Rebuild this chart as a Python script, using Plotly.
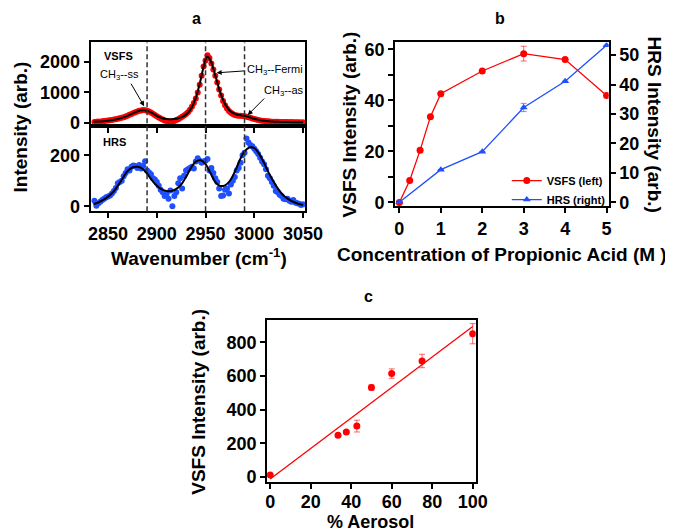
import numpy as np
import plotly.graph_objects as go

W, H = 673, 532

# ---------------- Panel a data ----------------
VSFS_SPEC_X = list(range(2836, 3052, 2))
VSFS_SPEC_Y = [
    30, 35, 45, 40, 55, 60, 70,
    75, 85, 95, 110, 120, 135, 150, 165, 185, 210, 235, 265, 290, 320, 350, 375, 395, 410, 420, 415, 400, 375, 340, 300, 255,
    215, 175, 140, 110, 80, 60, 45, 40, 50, 60, 90, 120, 160, 200, 240, 290, 350, 430, 530, 650, 800, 1000, 1250, 1550, 1850,
    2050, 2220, 2130, 1950, 1750, 1550, 1330, 1100, 900, 720, 580, 470, 390, 330, 290, 260, 245, 235, 230, 225, 215, 200, 185, 165, 145,
    125, 110, 95, 80, 70, 60, 55, 50, 45, 40, 38, 35, 33, 30, 30, 28, 25, 28, 22, 25, 20, 22, 18, 20, 15,
    18,
]
VSFS_FIT_X = [2835, 2840, 2845, 2850, 2855, 2860, 2865, 2870, 2875, 2880, 2885, 2890, 2895, 2900, 2905,
              2910, 2915, 2920, 2925, 2930, 2935, 2940, 2945, 2950, 2952, 2955, 2960, 2965, 2970, 2975,
              2980, 2985, 2990, 2995, 3000, 3005, 3010, 3015, 3020, 3025, 3030, 3035, 3040, 3045, 3050]
VSFS_FIT_Y = [35, 42, 55, 72, 95, 128, 172, 232, 305, 375, 415, 400, 325, 230, 160,
              125, 118, 135, 180, 270, 460, 820, 1420, 2080, 2170, 2060, 1560, 1010, 620, 400,
              300, 255, 230, 185, 135, 95, 68, 50, 40, 33, 28, 24, 21, 19, 17]

HRS_SPEC_X = list(range(2836, 3052, 2))
HRS_SPEC_Y = [
    22, 2, 12, 18, 25, 30, 35,
    38, 42, 50, 60, 72, 90, 95, 100, 118, 130, 145, 140, 155, 160, 158, 150, 162, 148, 158, 176, 140, 132, 125, 110, 105,
    95, 80, 65, 55, 40, 48, 30, 62, 0, 40, 55, 90, 110, 70, 120, 140, 145, 150, 155, 148, 175, 188, 178, 170, 175,
    178, 185, 140, 150, 130, 110, 95, 70, 40, 42, 65, 70, 50, 85, 100, 115, 140, 150, 170, 200, 210, 265, 250, 240, 235,
    225, 215, 205, 190, 175, 165, 145, 120, 110, 95, 80, 60, 55, 45, 40, 30, 28, 30, 22, 18, 25, 15, 12, 10, 5,
    8,
]
HRS_FIT_X = [2835, 2840, 2845, 2850, 2855, 2860, 2865, 2870, 2875, 2880, 2885, 2890, 2895, 2900, 2905,
             2910, 2915, 2920, 2925, 2930, 2935, 2940, 2945, 2950, 2955, 2960, 2965, 2970, 2975, 2980,
             2985, 2990, 2995, 3000, 3005, 3010, 3015, 3020, 3025, 3030, 3035, 3040, 3045, 3050]
HRS_FIT_Y = [8, 15, 25, 38, 55, 80, 110, 138, 152, 155, 148, 128, 102, 80, 66,
             60, 60, 68, 85, 115, 150, 175, 180, 165, 130, 95, 80, 82, 100, 135,
             180, 215, 230, 228, 205, 170, 130, 95, 65, 42, 28, 17, 10, 5]
PEAK_LINES = [2890, 2950, 2990]

# ---------------- Panel b data ----------------
CONC_VSFS = [0, 0.25, 0.5, 0.75, 1, 2, 3, 4, 5]
VSFS_INT = [0, 8.6, 20.4, 33.6, 42.6, 51.5, 58.3, 56.0, 41.9]
VSFS_ERR = [0, 0, 0, 0, 0, 0, 2.9, 0, 0]
CONC_HRS = [0, 1, 2, 3, 4, 5]
HRS_INT = [0, 11.1, 17.2, 32.2, 41.1, 53.3]
HRS_ERR = [0, 0, 0, 1.4, 0, 0]

# ---------------- Panel c data ----------------
AEROSOL = [0, 33.5, 37.6, 42.8, 50, 60, 75, 100]
AER_VSFS = [13, 249, 268, 303, 533, 615, 690, 852]
AER_ERR = [8, 10, 8, 35, 15, 28, 40, 60]

RED = "#ff0000"
BLUE = "#1f4fff"
FONT = "Liberation Sans"


def px(x):
    return x / W


def py(y):
    return 1 - y / H


fig = go.Figure()

# panel a top
fig.add_trace(go.Scatter(x=VSFS_SPEC_X, y=VSFS_SPEC_Y, mode="markers",
                         marker=dict(color=RED, size=6), xaxis="x", yaxis="y", showlegend=False))
fig.add_trace(go.Scatter(x=VSFS_FIT_X, y=VSFS_FIT_Y, mode="lines", line=dict(color="black", width=2, shape="spline"),
                         xaxis="x", yaxis="y", showlegend=False))
# panel a bottom
fig.add_trace(go.Scatter(x=HRS_SPEC_X, y=HRS_SPEC_Y, mode="markers",
                         marker=dict(color=BLUE, size=6), xaxis="x2", yaxis="y2", showlegend=False))
fig.add_trace(go.Scatter(x=HRS_FIT_X, y=HRS_FIT_Y, mode="lines", line=dict(color="black", width=2, shape="spline"),
                         xaxis="x2", yaxis="y2", showlegend=False))

# panel b
fig.add_trace(go.Scatter(x=CONC_VSFS, y=VSFS_INT, mode="lines+markers", name="VSFS (left)",
                         line=dict(color=RED, width=1.3), marker=dict(color=RED, size=7, symbol="circle"),
                         error_y=dict(type="data", array=VSFS_ERR, color="rgba(255,0,0,0.6)", thickness=1, width=3),
                         xaxis="x3", yaxis="y3"))
fig.add_trace(go.Scatter(x=CONC_HRS, y=HRS_INT, mode="lines+markers", name="HRS (right)",
                         line=dict(color=BLUE, width=1.3), marker=dict(color=BLUE, size=7, symbol="triangle-up"),
                         error_y=dict(type="data", array=HRS_ERR, color="rgba(31,79,255,0.6)", thickness=1, width=3),
                         xaxis="x3", yaxis="y4"))

# panel c
slope, intercept = np.polyfit(AEROSOL, AER_VSFS, 1)
fit_x = np.array([min(AEROSOL), max(AEROSOL)])
fig.add_trace(go.Scatter(x=fit_x, y=slope * fit_x + intercept, mode="lines", line=dict(color=RED, width=1.3),
                         xaxis="x4", yaxis="y5", showlegend=False))
fig.add_trace(go.Scatter(x=AEROSOL, y=AER_VSFS, mode="markers", marker=dict(color=RED, size=7),
                         error_y=dict(type="data", array=AER_ERR, color="rgba(255,0,0,0.6)", thickness=1, width=3),
                         xaxis="x4", yaxis="y5", showlegend=False))

tickfont = dict(family=FONT, size=18, color="black", weight="bold")
base = dict(showline=True, linecolor="black", linewidth=2, mirror=True, ticks="outside", ticklen=5,
            tickwidth=2, tickcolor="black", showgrid=False, zeroline=False, tickfont=tickfont)

ax_x = [px(83), px(304)]
fig.update_layout(
    width=W, height=H, autosize=False, margin=dict(l=0, r=0, t=0, b=0),
    paper_bgcolor="white", plot_bgcolor="white",
    xaxis=dict(base, domain=ax_x, range=[2832, 3052], anchor="y", tickvals=[2850, 2900, 2950, 3000, 3050],
               showticklabels=False),
    yaxis=dict(base, domain=[py(117), py(32)], range=[-97, 2645], anchor="x", tickvals=[0, 1000, 2000]),
    xaxis2=dict(base, domain=ax_x, range=[2832, 3052], anchor="y2", tickvals=[2850, 2900, 2950, 3000, 3050]),
    yaxis2=dict(base, domain=[py(204), py(117)], range=[-19, 315], anchor="x2", tickvals=[0, 200]),
    xaxis3=dict(base, domain=[px(397), px(617)], range=[-0.1, 5.05], anchor="y3", dtick=1),
    yaxis3=dict(base, domain=[py(199), py(32)], range=[-1.5, 62.7], anchor="x3", tickvals=[0, 20, 40, 60],
                minor=dict(ticks="outside", ticklen=5, tickwidth=2, tickcolor="black", tickvals=[10, 30, 50])),
    yaxis4=dict(base, overlaying="y3", side="right", anchor="x3", range=[-1.33, 54.3], dtick=10, mirror=False),
    xaxis4=dict(base, domain=[px(265), px(480)], range=[-1.5, 101.5], anchor="y5", dtick=20,
                ticklabelstandoff=-3),
    yaxis5=dict(base, domain=[py(480), py(315)], range=[-29, 933], anchor="x4", dtick=200),
    legend=dict(x=px(512), y=py(158), xanchor="left", yanchor="top", bgcolor="rgba(0,0,0,0)",
                font=dict(family=FONT, size=11, color="black", weight="bold"), itemwidth=30,
                tracegroupgap=0),
)

# dashed peak lines spanning both panel-a axes
for xv in PEAK_LINES:
    fig.add_shape(type="line", xref="x2", yref="paper", x0=xv, x1=xv, y0=py(204), y1=py(32),
                  line=dict(color="#333333", width=1.5, dash="5px,3px"))

ann = []


def text(x, y, s, size=19, bold=True, angle=0, yanchor="middle"):
    ann.append(dict(xref="paper", yref="paper", x=px(x), y=py(y), text=s, showarrow=False,
                    xanchor="center", yanchor=yanchor, textangle=angle, borderpad=0,
                    font=dict(family=FONT, size=size, color="black", weight="bold" if bold else "normal")))


def arrow(xref, yref, x, y, ax, ay):
    ann.append(dict(xref=xref, yref=yref, x=x, y=y, ax=ax, ay=ay, text="", showarrow=True,
                    arrowhead=2, arrowsize=1, arrowwidth=1, arrowcolor="black"))


# panel labels
text(192, 8, "a", 16)
text(505, 8, "b", 16)
text(369, 291, "c", 16)
# panel a texts
text(11, 118, "Intensity (arb.)", 19, angle=-90)
text(195, 251, "Wavenumber (cm<sup>-1</sup>)", 19)
text(112, 46, "VSFS", 11)
text(108, 133, "HRS", 11)
text(113, 65, "CH<sub>3</sub>--ss", 11, bold=False)
text(273, 60, "CH<sub>3</sub>--Fermi", 11, bold=False)
text(282, 82, "CH<sub>3</sub>--as", 11, bold=False)
arrow("x", "y", 2887, 548, -14, -24)
arrow("x", "y", 2961.4, 1645, 29, -2)
arrow("x", "y", 2993.3, 258, 18, -18)
# panel b texts
text(350, 116, "VSFS Intensity (arb.)", 19, angle=-90)
text(664, 116, "HRS Intensity (arb.)", 19, angle=90)
text(507, 248, "Concentration of Propionic Acid (M )", 19)
# panel c texts
text(194, 398, "VSFS Intensity (arb.)", 19, angle=-90)
text(372, 532, "% Aerosol", 18, yanchor="bottom")

fig.update_layout(annotations=ann)
fig.write_html("out.html")
